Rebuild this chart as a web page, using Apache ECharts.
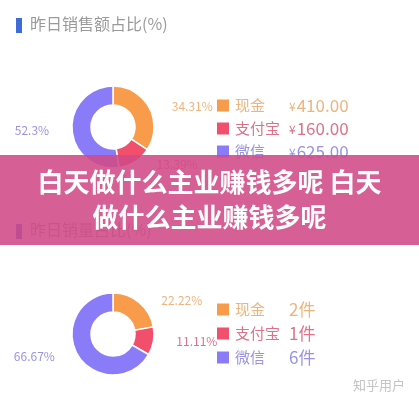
<!DOCTYPE html>
<html>
<head>
<meta charset="UTF-8">
<script src="https://cdn.jsdelivr.net/npm/echarts@6/dist/echarts.min.js"></script>
<style>
  html, body { margin: 0; padding: 0; background: #fff; }
  #main { width: 419px; height: 400px; }
</style>
</head>
<body>
<div id="main"></div>
<script>
// data
var payNames = ['现金', '支付宝', '微信'];
var amountValues = [410, 160, 625];
var countValues = [2, 1, 6];
var titles = ['昨日销售额占比(%)', '昨日销量占比(%)'];
var bannerLines = ['白天做什么主业赚钱多呢 白天', '做什么主业赚钱多呢'];
var watermark = '知乎用户';

var sliceColors = ['#F89B4B', '#F14F6B', '#8A7CF8'];
var textColors = ['#EDB47E', '#DD7289', '#9A93E2'];
var font = '"Noto Sans CJK SC", "Noto Sans", sans-serif';

var myChart = echarts.init(document.getElementById('main'), null, { renderer: 'canvas' });

function pieData(values) {
    return values.map(function (v, i) {
        return {
            name: payNames[i],
            value: v,
            itemStyle: { color: sliceColors[i] },
            label: { color: textColors[i] }
        };
    });
}

function pieSeries(values, center) {
    return {
        type: 'pie',
        center: center,
        radius: [22, 41],
        startAngle: 90,
        data: pieData(values),
        itemStyle: { borderColor: '#fff', borderWidth: 1.5 },
        label: {
            position: 'outside',
            formatter: '{d}%',
            fontSize: 12,
            fontFamily: font
        },
        labelLine: { show: false, length: 3, length2: 15 },
        emphasis: { disabled: true }
    };
}

// rich styles for legend text, one per colour
var rich = {};
payNames.forEach(function (n, i) {
    rich['n' + i] = { color: textColors[i], fontSize: 15, width: 54, lineHeight: 20, fontFamily: font };
    rich['y' + i] = { color: textColors[i], fontSize: 12, lineHeight: 20, fontFamily: font, padding: [2, 1, 0, 0] };
    rich['v' + i] = { color: textColors[i], fontSize: 17, lineHeight: 20, fontFamily: font };
});

function legendOf(top, gap, fmt) {
    return {
        orient: 'vertical',
        left: 215,
        top: top,
        icon: 'rect',
        itemWidth: 14,
        itemHeight: 14,
        itemGap: gap,
        padding: 0,
        selectedMode: false,
        data: payNames,
        textStyle: { rich: rich },
        formatter: fmt
    };
}

var titleStyle = { color: '#9a9a9a', fontSize: 16, fontWeight: 'normal', fontFamily: font };

var option = {
    animation: false,
    backgroundColor: '#fff',
    title: [
        { text: titles[0], left: 30, top: 16, padding: 0, textStyle: titleStyle },
        { text: titles[1], left: 30, top: 222, padding: 0, textStyle: titleStyle }
    ],
    legend: [
        legendOf(97, 6, function (name) {
            var i = payNames.indexOf(name);
            return '{n' + i + '|' + name + '}{y' + i + '|¥}{v' + i + '|' + amountValues[i].toFixed(2) + '}';
        }),
        legendOf(301, 7, function (name) {
            var i = payNames.indexOf(name);
            return '{n' + i + '|' + name + '}{v' + i + '|' + countValues[i] + '件}';
        })
    ],
    series: [
        pieSeries(amountValues, [113, 127]),
        pieSeries(countValues, [113, 334])
    ],
    graphic: [
        { type: 'rect', shape: { x: 16, y: 18, width: 6, height: 15 }, style: { fill: '#3D6CD8' }, z: 10 },
        { type: 'rect', shape: { x: 16, y: 224, width: 6, height: 15 }, style: { fill: '#3D6CD8' }, z: 10 },
        { type: 'rect', shape: { x: 0, y: 155, width: 419, height: 90 },
          style: { fill: 'rgba(208, 74, 134, 0.88)' }, z: 100 },
        { type: 'text', x: 209.5, y: 182, z: 101,
          style: { text: bannerLines[0], fill: '#fff', font: 'bold 26px ' + font,
                   textAlign: 'center', textVerticalAlign: 'middle' } },
        { type: 'text', x: 209.5, y: 217, z: 101,
          style: { text: bannerLines[1], fill: '#fff', font: 'bold 26px ' + font,
                   textAlign: 'center', textVerticalAlign: 'middle' } },
        { type: 'text', x: 353, y: 385, z: 101,
          style: { text: watermark, fill: '#c4c4c4', font: '13px ' + font,
                   textAlign: 'left', textVerticalAlign: 'middle' } }
    ]
};

myChart.setOption(option);
</script>
</body>
</html>
